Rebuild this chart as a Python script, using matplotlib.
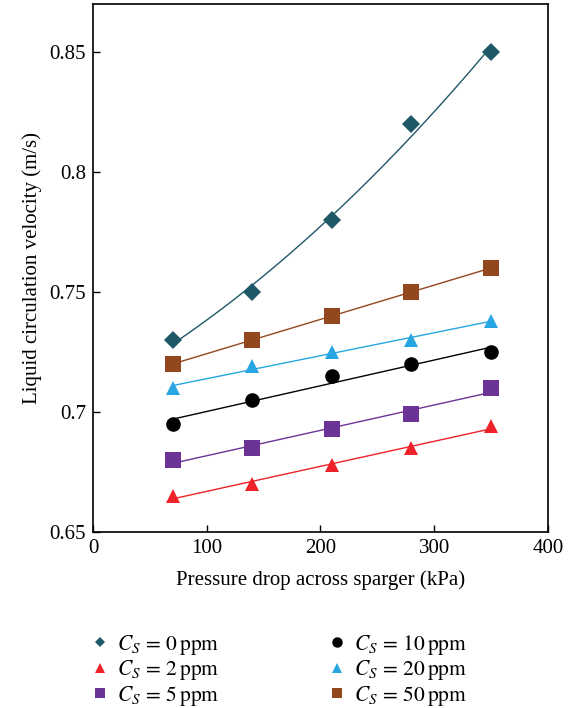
import numpy as np
import matplotlib
matplotlib.use("Agg")
import matplotlib.pyplot as plt
from matplotlib.ticker import FuncFormatter

plt.rcParams['font.family'] = ['Liberation Serif', 'DejaVu Serif']
plt.rcParams['mathtext.fontset'] = 'stix'

pressure = [70, 140, 210, 280, 350]
v_cs0 = [0.730, 0.750, 0.780, 0.820, 0.850]
v_cs2 = [0.665, 0.670, 0.678, 0.685, 0.694]
v_cs5 = [0.680, 0.685, 0.693, 0.699, 0.710]
v_cs10 = [0.695, 0.705, 0.715, 0.720, 0.725]
v_cs20 = [0.710, 0.719, 0.725, 0.730, 0.738]
v_cs50 = [0.720, 0.730, 0.740, 0.750, 0.760]

labels = ['0', '2', '5', '10', '20', '50']
series = [v_cs0, v_cs2, v_cs5, v_cs10, v_cs20, v_cs50]
colors = ['#1f5866', '#ee2229', '#6b3396', '#000000', '#27a6e1', '#93471f']
markers = ['D', '^', 's', 'o', '^', 's']
msizes = [9, 10.5, 11.5, 10.5, 10.5, 11.5]
degrees = [2, 1, 1, 1, 1, 1]

fig = plt.figure(figsize=(5.68, 7.08), dpi=100)
ax = fig.add_axes([0.1637, 0.2486, 0.801, 0.7458])

x = np.array(pressure, dtype=float)
xs = np.linspace(x.min(), x.max(), 200)
handles = []
for lab, y, c, m, ms, d in zip(labels, series, colors, markers, msizes, degrees):
    coef = np.polyfit(x, y, d)
    ax.plot(xs, np.polyval(coef, xs), color=c, lw=1.0, zorder=2)
    h = ax.plot(x, y, linestyle='none', marker=m, color=c, markersize=ms,
                markeredgewidth=0, zorder=3,
                label=r'$C_S\, =\, ' + lab + r'\,\mathrm{ppm}$')[0]
    handles.append(h)

ax.set_xlim(0, 400)
ax.set_ylim(0.65, 0.87)
ax.set_xticks([0, 100, 200, 300, 400])
ax.set_yticks([0.65, 0.7, 0.75, 0.8, 0.85])
ax.yaxis.set_major_formatter(FuncFormatter(lambda v, p: ('%g' % round(v, 3))))
ax.tick_params(direction='in', length=5, width=1, labelsize=15, pad=5,
               top=False, right=False)
for s in ax.spines.values():
    s.set_linewidth(1.2)
ax.set_xlabel('Pressure drop across sparger (kPa)', fontsize=15, labelpad=9)
ax.set_ylabel('Liquid circulation velocity (m/s)', fontsize=15, labelpad=5)

leg = fig.legend(handles=handles, ncol=2, loc='lower left',
                 bbox_to_anchor=(0.157, 0.0), frameon=False, fontsize=15.5,
                 handlelength=1.0, handletextpad=0.3, columnspacing=4.95,
                 labelspacing=0.08, borderaxespad=0.0, borderpad=0.0)
for lh, ms in zip(leg.legend_handles, [5.5, 7, 6.5, 7.5, 7, 6.5]):
    lh.set_markersize(ms)

fig.savefig('out.png', dpi=100)
